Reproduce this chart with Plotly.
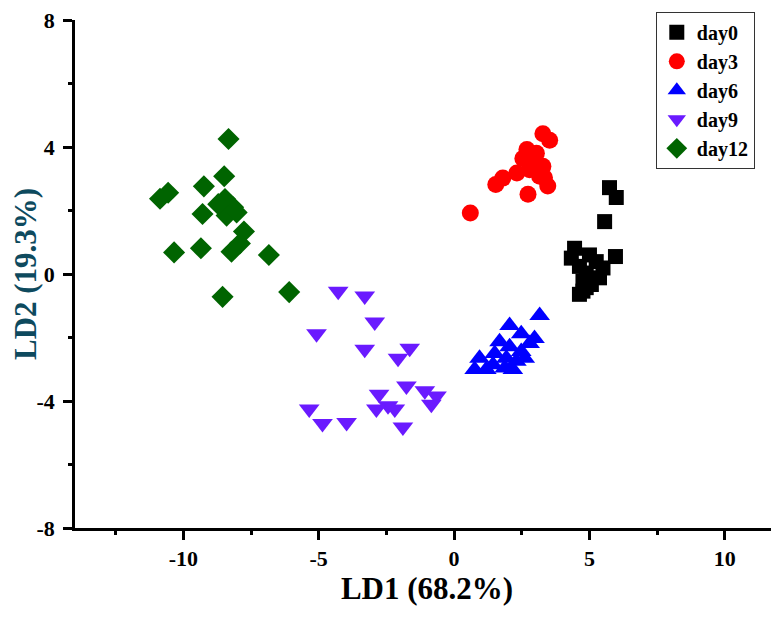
import plotly.graph_objects as go

# ---- data ----
day0_x = [5.74, 5.99, 5.56, 4.45, 4.33, 5.96, 5.00, 5.25, 4.63, 5.50, 4.88, 5.37, 4.76, 5.07, 4.63, 4.88, 4.76]
day0_y = [2.72, 2.41, 1.65, 0.81, 0.50, 0.55, 0.60, 0.39, 0.24, 0.19, 0.03, -0.12, -0.22, -0.33, -0.64, -0.43, -0.54]

day3_x = [0.60, 1.54, 1.80, 2.32, 2.73, 2.69, 3.28, 3.53, 3.04, 2.91, 3.28, 3.16, 3.46, 2.54, 3.34, 2.79]
day3_y = [1.92, 2.82, 3.02, 3.18, 2.51, 3.92, 4.42, 4.21, 3.80, 3.49, 3.39, 3.08, 2.77, 3.64, 3.03, 3.28]

day6_x = [3.16, 2.05, 2.97, 2.48, 1.68, 2.79, 2.05, 2.48, 1.50, 0.94, 1.93, 2.61, 1.44, 0.76, 1.87, 2.17, 1.19, 2.30]
day6_y = [-1.31, -1.62, -2.03, -1.88, -2.13, -2.19, -2.29, -2.44, -2.50, -2.65, -2.65, -2.65, -2.86, -3.01, -2.96, -3.01, -3.01, -2.75]

day9_x = [-4.28, -3.30, -2.93, -5.08, -3.30, -1.64, -2.07, -1.76, -2.77, -1.08, -0.65, -0.84, -2.44, -2.87, -2.19, -1.89, -5.35, -4.86, -3.97]
day9_y = [-0.54, -0.69, -1.51, -1.88, -2.37, -2.34, -2.65, -3.53, -3.79, -3.68, -3.84, -4.10, -4.15, -4.25, -4.25, -4.82, -4.25, -4.71, -4.68]

day12_x = [-8.33, -8.49, -9.24, -10.56, -10.86, -9.29, -8.46, -8.16, -8.40, -8.03, -7.76, -7.91, -8.22, -10.34, -9.35, -6.84, -8.55, -6.09, -8.71]
day12_y = [4.25, 3.08, 2.76, 2.56, 2.37, 1.89, 2.36, 2.10, 1.84, 1.94, 1.34, 0.96, 0.70, 0.68, 0.81, 0.60, -0.72, -0.57, 2.20]

x_ticks = [-10, -5, 0, 5, 10]
x_tick_labels = ["-10", "-5", "0", "5", "10"]
y_ticks = [-8, -4, 0, 4, 8]
y_tick_labels = ["-8", "-4", "0", "4", "8"]

FONT = "Liberation Serif, Times New Roman, serif"

series = [
    ("day0", day0_x, day0_y, "square", "#000000", 15),
    ("day3", day3_x, day3_y, "circle", "#ff0000", 17),
    ("day6", day6_x, day6_y, "triangle-up", "#0000ff", 18),
    ("day9", day9_x, day9_y, "triangle-down", "#6a1aff", 18),
    ("day12", day12_x, day12_y, "diamond", "#006400", 17),
]

fig = go.Figure()
for name, xs, ys, sym, col, sz in series:
    fig.add_trace(go.Scatter(
        x=xs, y=ys, mode="markers", name=name,
        marker=dict(symbol=sym, color=col, size=sz, line=dict(width=0)),
        cliponaxis=False,
    ))

axis_common = dict(
    showline=True, linecolor="black", linewidth=2.5,
    ticks="outside", ticklen=9, tickwidth=2.5, tickcolor="black",
    showgrid=False, zeroline=False, mirror=False, automargin=False,
    ticklabeloverflow="allow",
    tickfont=dict(family=FONT, size=22, color="black", weight="bold"),
)

fig.update_xaxes(
    range=[-14, 12], tickmode="array", tickvals=x_ticks, ticktext=x_tick_labels,
    minor=dict(ticks="outside", ticklen=4, tickwidth=2.5, tickcolor="black", dtick=2.5, tick0=0, showgrid=False),
    title=dict(text="LD1 (68.2%)", font=dict(family=FONT, size=31, color="black", weight="bold"), standoff=8),
    ticklabelstandoff=0,
    **axis_common,
)
fig.update_yaxes(
    range=[-8, 8], tickmode="array", tickvals=y_ticks, ticktext=y_tick_labels,
    minor=dict(ticks="outside", ticklen=4, tickwidth=2.5, tickcolor="black", dtick=2, tick0=0, showgrid=False),
    ticklabelstandoff=4,
    **axis_common,
)

# y-axis title placed as a rotated annotation so it sits close to the page edge
fig.add_annotation(
    text="LD2 (19.3%)", xref="paper", yref="paper",
    x=-0.071, y=0.5, xanchor="center", yanchor="middle",
    textangle=-90, showarrow=False,
    font=dict(family=FONT, size=31, color="#0e4a5e", weight="bold"),
)

# the page body adds an 8px offset, so the figure is laid out 8px smaller
fig.update_layout(
    width=771, height=614,
    margin=dict(l=67, r=0, t=12, b=94),
    paper_bgcolor="white", plot_bgcolor="white",
    showlegend=True,
    legend=dict(
        x=0.825, y=1.016, xanchor="left", yanchor="top",
        bordercolor="#333333", borderwidth=1, bgcolor="white",
        font=dict(family=FONT, size=20, color="black", weight="bold"),
        itemsizing="trace",
    ),
)

fig.write_html("out.html")
